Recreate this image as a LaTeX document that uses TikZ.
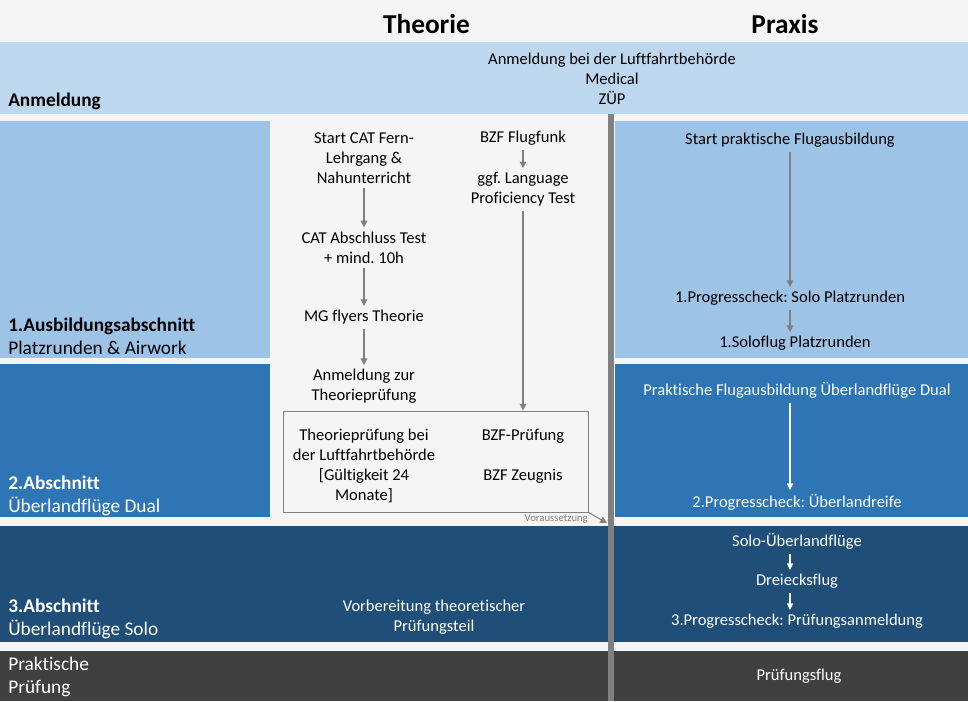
\documentclass[tikz,border=0pt]{standalone}
\usepackage{fontspec}
\setmainfont{Carlito}[Ligatures=NoCommon]
\usetikzlibrary{arrows.meta,fit,calc}
\definecolor{bgc}{HTML}{F5F5F5}
\definecolor{anmc}{HTML}{BDD7EE}
\definecolor{sonec}{HTML}{9DC3E6}
\definecolor{stwoc}{HTML}{2E75B6}
\definecolor{sthreec}{HTML}{1F4E79}
\definecolor{sfourc}{HTML}{404040}
\definecolor{barc}{HTML}{808080}
\frenchspacing
\begin{document}
\begin{tikzpicture}[x=0.75pt,y=-0.75pt,
  txt/.style={font=\fontsize{12.4}{15}\selectfont, align=center, inner xsep=1pt, inner ysep=3pt, yshift=-1.1pt},
  wtxt/.style={txt, text=white},
  lbl/.style={font=\fontsize{14.5}{17}\selectfont, align=left, anchor=west, inner sep=0pt},
  hdr/.style={font=\fontsize{20.5}{24}\selectfont\bfseries, inner sep=0pt},
  garr/.style={draw=barc, line width=0.8pt, -{Triangle[length=5pt,width=5pt]}},
  warr/.style={draw=white, line width=0.8pt, -{Triangle[length=5pt,width=4.5pt]}},
]
\fill[bgc] (0,0) rectangle (968,701);
\useasboundingbox (0,0) rectangle (968,701);
% bands
\fill[anmc] (0,42) rectangle (968,114);
\fill[sonec] (0,121) rectangle (270,358);
\fill[sonec] (615,121) rectangle (968,358);
\fill[stwoc] (0,364) rectangle (270,517);
\fill[stwoc] (615,364) rectangle (968,517);
\fill[sthreec] (0,526) rectangle (968,642);
\fill[sfourc] (0,651) rectangle (968,701);
\fill[barc] (608,114) rectangle (614,701);

% headers
\node[hdr] (theorie) at (426.5,24) {Theorie};
\node[hdr] (praxis) at (785,24) {Praxis};

% left labels
\node[lbl] (anm) at (8,101.5) {\textbf{Anmeldung}};
\node[lbl] (sonel) at (8,336) {\textbf{1.Ausbildungsabschnitt}\\Platzrunden \& Airwork};
\node[lbl, text=white] (stwol) at (8,496) {\textbf{2.Abschnitt}\\Überlandflüge Dual};
\node[lbl, text=white] (sthreel) at (8,619) {\textbf{3.Abschnitt}\\Überlandflüge Solo};
\node[lbl, text=white] (sfourl) at (8,677) {Praktische\\Prüfung};

% Anmeldung band
\node[txt] (anmtxt) at (612,77) {Anmeldung bei der Luftfahrtbehörde\\Medical\\ZÜP};

% Theorie column
\node[txt] (startcat) at (364,157) {Start CAT Fern-\\Lehrgang \&\\Nahunterricht};
\node[txt] (catab) at (364,246) {CAT Abschluss Test\\+ mind. 10h};
\node[txt] (mgfly) at (364,316) {MG flyers Theorie};
\node[txt] (anmtp) at (364,385) {Anmeldung zur\\Theorieprüfung};
\node[txt] (bzf) at (523,137) {BZF Flugfunk};
\node[txt] (lpt) at (523,188) {ggf. Language\\Proficiency Test};
\node[draw=barc, line width=0.75pt, fit={(283,411) (588,512)}, inner sep=0pt] (tbox) {};
\node[txt] (tpruef) at (364,464) {Theorieprüfung bei\\der Luftfahrtbehörde\\{[}Gültigkeit 24\\Monate{]}};
\node[txt] (bzfp) at (523,435) {BZF-Prüfung};
\node[txt] (bzfz) at (523,475) {BZF Zeugnis};
\node[font=\fontsize{8}{9}\selectfont, text=barc, anchor=east, inner sep=0pt] (vor) at (588,519) {Voraussetzung};
\coordinate (vtip) at (607,523);
\node[wtxt] (vorb) at (434,616) {Vorbereitung theoretischer\\Prüfungsteil};

\draw[garr] (startcat) -- (catab);
\draw[garr] (catab) -- (mgfly);
\draw[garr] (mgfly) -- (anmtp);
\draw[garr] (bzf) -- (lpt);
\draw[garr] (lpt) -- (lpt |- tbox.north);
\draw[garr] (tbox.south east) -- (vtip);

% Praxis column
\node[txt] (startpr) at (790,139) {Start praktische Flugausbildung};
\node[txt] (progone) at (790,297) {1.Progresscheck: Solo Platzrunden};
\node[txt] (soloone) at (795,342) {1.Soloflug Platzrunden};
\node[wtxt] (prdual) at (797,389) {Praktische Flugausbildung Überlandflüge Dual};
\node[wtxt] (progtwo) at (797,501) {2.Progresscheck: Überlandreife};
\node[wtxt] (soloue) at (797,540) {Solo-Überlandflüge};
\node[wtxt] (dreieck) at (797,580) {Dreiecksflug};
\node[wtxt] (progthree) at (797,620) {3.Progresscheck: Prüfungsanmeldung};
\node[wtxt] (pflug) at (799,675) {Prüfungsflug};

\draw[garr] (startpr) -- (progone);
\draw[garr] (progone) -- (progone |- soloone.north);
\draw[warr] ($(prdual.south)+(-7,0)$) -- ($(progtwo.north)+(-7,0)$);
\draw[warr] ($(soloue.south)+(-7,0)$) -- ($(dreieck.north)+(-7,0)$);
\draw[warr] ($(dreieck.south)+(-7,0)$) -- ($(progthree.north)+(-7,0)$);
\end{tikzpicture}
\end{document}
